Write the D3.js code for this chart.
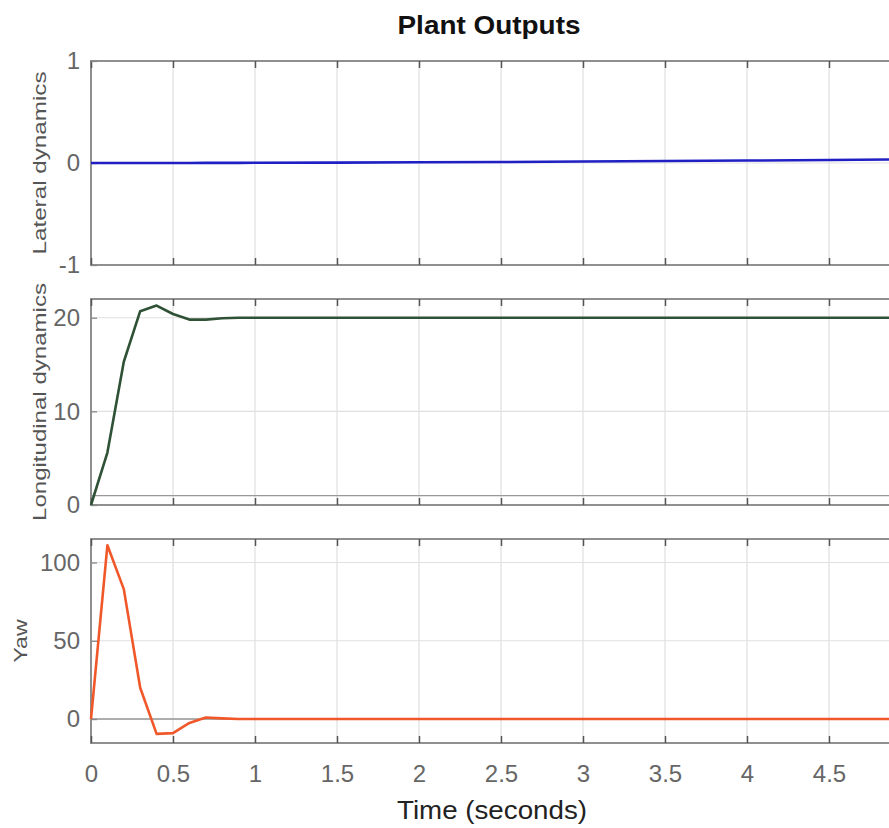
<!DOCTYPE html>
<html><head><meta charset="utf-8">
<script src="https://cdn.jsdelivr.net/npm/d3@7/dist/d3.min.js"></script>
<style>
body{margin:0;background:#fff;overflow:hidden}
svg{display:block}
text{font-family:"Liberation Sans",Arial,sans-serif}
</style></head><body>
<svg id="c" width="889" height="828"></svg>
<script>
const time = [0,0.1,0.2,0.3,0.4,0.5,0.6,0.7,0.8,0.9,1.0,1.5,2,2.5,3,3.5,4,4.5,5];
const lateral = [0,0,0,0,0,0,0,0.001,0.001,0.001,0.002,0.004,0.007,0.01,0.014,0.019,0.024,0.03,0.036];
const longitudinal = [0,5.6,15.3,20.7,21.3,20.4,19.8,19.8,19.95,20,20,20,20,20,20,20,20,20,20];
const yaw = [0,111,83,20,-9.5,-9,-2.5,1,0.4,0,0,0,0,0,0,0,0,0,0];
const xTicks = [0,0.5,1,1.5,2,2.5,3,3.5,4,4.5,5];
const xTickLabels = ["0","0.5","1","1.5","2","2.5","3","3.5","4","4.5",""];
const titleText = "Plant Outputs";
const xLabel = "Time (seconds)";
const panels = [
  {label:"Lateral dynamics", values:lateral, domain:[-1,1], ticks:[-1,0,1], ref:[], color:"#1f1fc4", top:61, bottom:265, labelX:46, labelLen:183},
  {label:"Longitudinal dynamics", values:longitudinal, domain:[0,22], ticks:[0,10,20], ref:[1], color:"#2f5236", top:299, bottom:505, labelX:46, labelLen:238, labelY:402},
  {label:"Yaw", values:yaw, domain:[-15.3,115], ticks:[0,50,100], ref:[0], color:"#f0582a", top:539, bottom:743, labelX:27, labelLen:43, labelY:641}
];

const svg = d3.select("#c");
const x = d3.scaleLinear().domain([0,5]).range([91,911]);

svg.append("text").attr("x",489).attr("y",34).attr("text-anchor","middle")
  .attr("font-size",26).attr("font-weight","bold").attr("fill","#111")
  .attr("textLength",183).attr("lengthAdjust","spacingAndGlyphs").text(titleText);

panels.forEach((p,i)=>{
  const y = d3.scaleLinear().domain(p.domain).range([p.bottom,p.top]);
  const g = svg.append("g");
  g.selectAll(".gx").data(xTicks).enter().append("line")
    .attr("x1",d=>x(d)).attr("x2",d=>x(d)).attr("y1",p.top).attr("y2",p.bottom)
    .attr("stroke","#e0e0e0").attr("stroke-width",1.2);
  g.selectAll(".gy").data(p.ticks).enter().append("line")
    .attr("x1",91).attr("x2",911).attr("y1",d=>y(d)).attr("y2",d=>y(d))
    .attr("stroke","#e0e0e0").attr("stroke-width",1.2);
  g.selectAll(".ref").data(p.ref).enter().append("line")
    .attr("x1",91).attr("x2",911).attr("y1",d=>y(d)).attr("y2",d=>y(d))
    .attr("stroke","#999").attr("stroke-width",1.4);
  g.append("rect").attr("x",91).attr("y",p.top).attr("width",911-91).attr("height",p.bottom-p.top)
    .attr("fill","none").attr("stroke","#8f8f8f").attr("stroke-width",2);
  const xb = d3.axisBottom(x).tickValues(xTicks).tickSizeInner(-7).tickSizeOuter(0).tickFormat("");
  const xt = d3.axisTop(x).tickValues(xTicks).tickSizeInner(-7).tickSizeOuter(0).tickFormat("");
  const gb = g.append("g").attr("transform",`translate(0,${p.bottom})`).call(xb);
  const gt = g.append("g").attr("transform",`translate(0,${p.top})`).call(xt);
  [gb,gt].forEach(a=>{a.select(".domain").remove(); a.selectAll("line").attr("stroke","#555").attr("stroke-width",1.5);});
  const ya = d3.axisLeft(y).tickValues(p.ticks).tickSizeInner(-6).tickSizeOuter(0).tickPadding(11).tickFormat(d=>String(d));
  const gy = g.append("g").attr("transform","translate(91,0)").call(ya);
  gy.select(".domain").remove();
  gy.selectAll("line").attr("stroke","#888").attr("stroke-width",1.3);
  gy.selectAll("text").attr("font-size",24).attr("fill","#666")
    .attr("font-family","Liberation Sans, Arial, sans-serif");
  const ly = p.labelY || (p.top+p.bottom)/2;
  svg.append("text").attr("transform",`translate(${p.labelX},${ly}) rotate(-90)`)
    .attr("text-anchor","middle").attr("font-size",18).attr("fill","#555")
    .attr("textLength",p.labelLen).attr("lengthAdjust","spacingAndGlyphs").text(p.label);
  const line = d3.line().x((d,j)=>x(time[j])).y(d=>y(d));
  g.append("path").datum(p.values).attr("d",line).attr("fill","none")
    .attr("stroke",p.color).attr("stroke-width",2.6).attr("stroke-linejoin","round");
  if(i===2){
    const xa = d3.axisBottom(x).tickValues(xTicks).tickSize(0).tickPadding(22).tickFormat((d,k)=>xTickLabels[k]);
    const gx = svg.append("g").attr("transform",`translate(0,${p.bottom})`).call(xa);
    gx.select(".domain").remove();
    gx.selectAll("text").attr("font-size",24).attr("fill","#666")
      .attr("font-family","Liberation Sans, Arial, sans-serif");
  }
});

svg.append("text").attr("x",492).attr("y",819).attr("text-anchor","middle")
  .attr("font-size",26).attr("fill","#222")
  .attr("textLength",190).attr("lengthAdjust","spacingAndGlyphs").text(xLabel);
</script>
</body></html>
